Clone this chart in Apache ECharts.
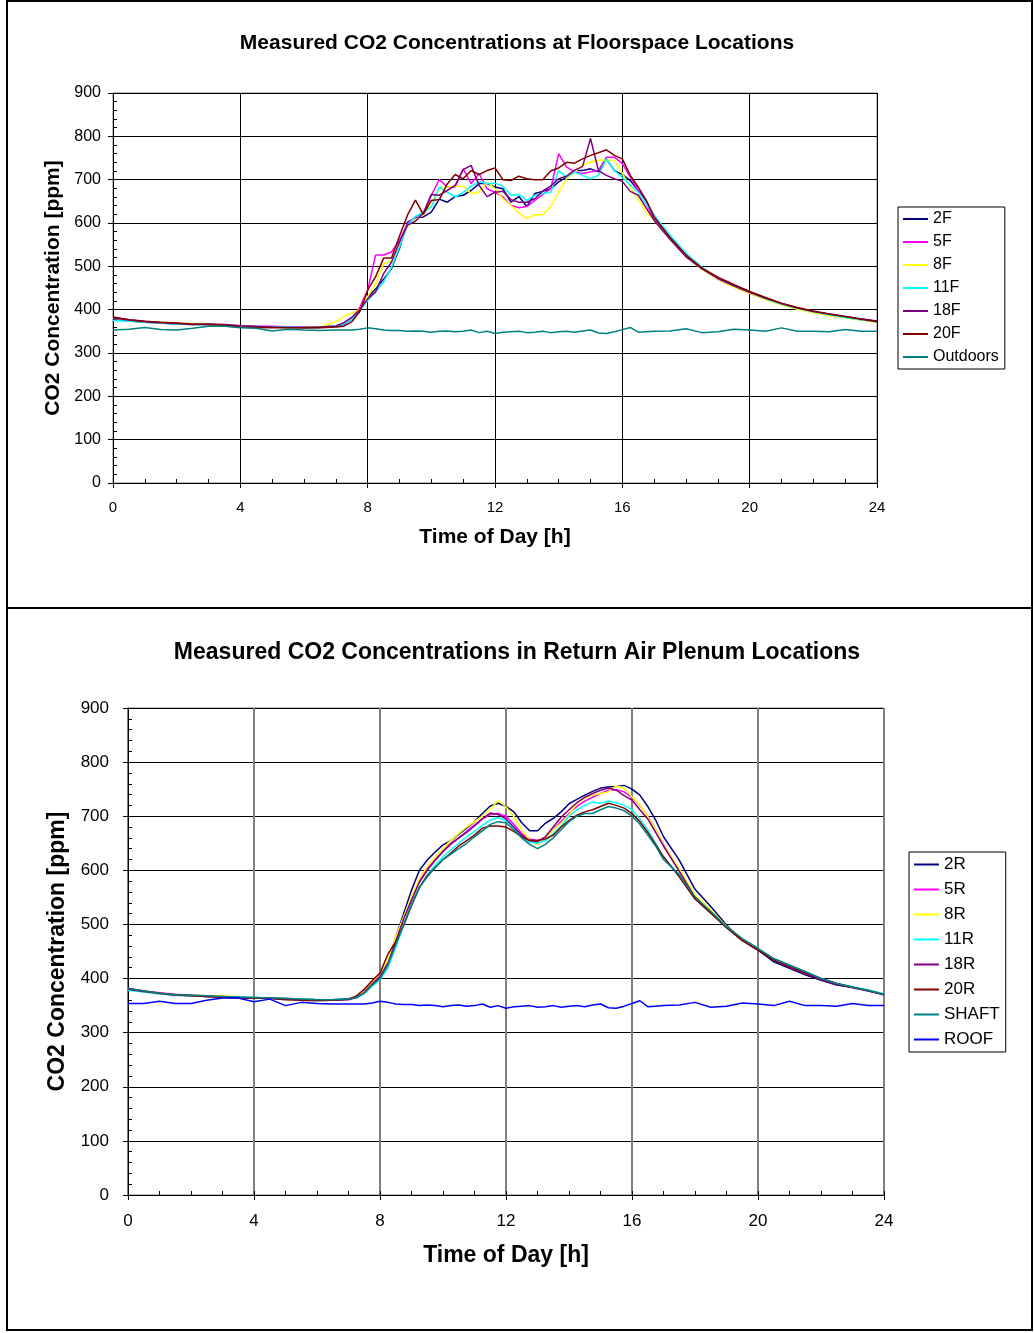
<!DOCTYPE html>
<html>
<head>
<meta charset="utf-8">
<script src="https://cdn.jsdelivr.net/npm/echarts@6/dist/echarts.min.js"></script>
<style>
  body { margin: 0; background: #fff; }
  #frame { position: absolute; left: 6px; top: 0; width: 1023px; height: 1327px; border: 2px solid #000; }
  #divider { position: absolute; left: 6px; top: 607px; width: 1027px; height: 2px; background: #000; }
  #chart { position: absolute; left: 0; top: 0; width: 1034px; height: 1333px; }
</style>
</head>
<body>
<div id="frame"></div>
<div id="divider"></div>
<div id="chart"></div>
<script>
// time of day [h] shared by every series (30 min at night, 15 min in the day)
var hours = [0, 0.5, 1, 1.5, 2, 2.5, 3, 3.5, 4, 4.5, 5, 5.5, 6, 6.5, 7,
  7.25, 7.5, 7.75,
  8, 8.25, 8.5, 8.75, 9, 9.25, 9.5, 9.75, 10, 10.25, 10.5, 10.75, 11, 11.25, 11.5, 11.75,
  12, 12.25, 12.5, 12.75, 13, 13.25, 13.5, 13.75, 14, 14.25, 14.5, 14.75, 15, 15.25, 15.5, 15.75,
  16, 16.25, 16.5, 16.75, 17,
  17.5, 18, 18.5, 19, 19.5, 20, 20.5, 21, 21.5, 22, 22.5, 23, 23.5, 24];

// floorspace locations
var f2 = [378, 374, 371, 369, 367, 366, 366, 364, 362, 361, 360, 360, 358, 359, 362,
  366, 378, 398,
  428, 448, 470, 495, 541, 602, 612, 614, 625, 655, 648, 661, 664, 675, 691, 691, 683, 679, 648, 661, 638, 668, 673, 679, 695, 706, 721, 721, 725, 718, 748, 721, 712, 698, 675, 652, 614,
  568, 528, 497, 472, 455, 440, 425, 413, 403, 395, 389, 383, 378, 373];
var f5 = [382, 377, 373, 370, 368, 367, 366, 365, 363, 362, 362, 360, 360, 360, 363,
  368, 380, 405,
  445, 526, 526, 533, 560, 598, 614, 621, 664, 700, 683, 683, 725, 691, 714, 679, 671, 660, 641, 635, 638, 652, 666, 679, 760, 729, 718, 714, 718, 721, 752, 752, 737, 706, 675, 645, 610,
  565, 525, 495, 470, 453, 438, 424, 412, 402, 394, 388, 382, 377, 372];
var f8 = [380, 376, 372, 370, 368, 368, 367, 365, 362, 360, 360, 358, 358, 360, 372,
  385, 392, 400,
  430, 460, 506, 512, 552, 591, 608, 620, 648, 679, 683, 685, 685, 668, 671, 695, 679, 656, 641, 623, 610, 619, 619, 638, 671, 702, 718, 733, 741, 745, 745, 745, 714, 683, 654, 625, 606,
  563, 523, 493, 470, 452, 438, 423, 411, 401, 393, 386, 381, 376, 371];
var f11 = [375, 373, 371, 369, 367, 366, 366, 364, 362, 361, 360, 360, 359, 360, 363,
  367, 378, 398,
  421, 441, 464, 498, 545, 595, 615, 625, 637, 683, 671, 660, 671, 685, 695, 691, 692, 685, 664, 666, 652, 664, 668, 671, 721, 706, 718, 710, 702, 710, 748, 721, 705, 687, 671, 645, 618,
  572, 530, 498, 473, 455, 440, 425, 413, 403, 395, 388, 382, 377, 372];
var f18 = [381, 376, 372, 370, 368, 366, 367, 366, 363, 361, 360, 359, 358, 360, 362,
  370, 382, 400,
  425, 441, 483, 510, 556, 595, 604, 623, 666, 664, 675, 687, 723, 733, 687, 661, 671, 673, 654, 648, 648, 656, 674, 685, 702, 708, 722, 730, 795, 721, 710, 702, 696, 673, 664, 635, 606,
  562, 522, 494, 472, 455, 440, 426, 414, 404, 396, 390, 384, 379, 374];
var f20 = [383, 377, 373, 371, 369, 367, 366, 364, 360, 359, 358, 358, 359, 358, 360,
  362, 372, 395,
  445, 476, 519, 519, 570, 618, 653, 620, 652, 654, 690, 712, 702, 721, 712, 721, 727, 700, 698, 708, 702, 700, 700, 720, 727, 740, 738, 748, 756, 762, 769, 756, 748, 710, 683, 652, 614,
  566, 526, 496, 475, 458, 442, 428, 415, 405, 397, 390, 384, 378, 372];
var outdoors = [353, 355, 359, 354, 353, 357, 362, 362, 358, 357, 351, 355, 353, 352, 353,
  353, 353, 355,
  358, 356, 353, 352, 352, 350, 351, 350, 348, 350, 351, 349, 350, 353, 347, 350, 345, 348, 349, 350, 347, 348, 350, 347, 349, 350, 348, 351, 353, 346, 345, 349, 354, 359, 348, 349, 350,
  351, 356, 347, 349, 355, 353, 350, 358, 350, 350, 349, 354, 350, 350];

// return air plenum locations
var r2 = [380, 376, 372, 369, 368, 367, 367, 365, 365, 364, 363, 362, 361, 361, 362,
  366, 375, 392,
  403, 428, 477, 520, 563, 600, 619, 634, 647, 655, 667, 678, 690, 705, 719, 724, 718, 708, 688, 673, 673, 687, 696, 708, 723, 731, 739, 746, 752, 754, 755, 757, 750, 739, 718, 693, 662,
  619, 565, 533, 499, 471, 453, 431, 419, 407, 397, 388, 384, 378, 371];
var r5 = [382, 377, 374, 371, 369, 368, 366, 365, 364, 363, 362, 361, 360, 361, 362,
  365, 374, 390,
  405, 430, 470, 512, 548, 580, 603, 620, 635, 648, 660, 672, 684, 695, 703, 705, 700, 685, 668, 658, 655, 660, 675, 690, 705, 718, 728, 735, 742, 748, 749, 745, 735, 720, 700, 675, 648,
  600, 552, 524, 496, 472, 454, 435, 422, 410, 399, 390, 384, 377, 371];
var r8 = [381, 376, 373, 370, 369, 368, 368, 366, 365, 364, 362, 362, 361, 360, 362,
  366, 376, 393,
  409, 434, 477, 514, 551, 585, 607, 624, 641, 655, 668, 680, 690, 700, 713, 729, 717, 699, 675, 656, 647, 659, 675, 687, 702, 724, 733, 739, 742, 745, 756, 752, 736, 721, 699, 675, 647,
  603, 555, 526, 497, 473, 455, 436, 423, 411, 400, 391, 385, 378, 372];
var r11 = [378, 375, 372, 370, 368, 367, 366, 366, 365, 364, 363, 362, 361, 361, 363,
  364, 372, 386,
  398, 420, 458, 498, 535, 568, 592, 610, 625, 638, 650, 662, 672, 683, 693, 697, 692, 678, 662, 652, 650, 655, 668, 682, 700, 712, 720, 726, 724, 728, 725, 720, 712, 695, 675, 650, 625,
  590, 548, 522, 494, 472, 455, 436, 424, 412, 400, 391, 385, 379, 372];
var r18 = [380, 376, 373, 370, 369, 367, 367, 365, 364, 364, 362, 361, 360, 360, 361,
  365, 374, 390,
  403, 428, 468, 510, 545, 578, 600, 618, 635, 650, 660, 670, 682, 695, 706, 703, 695, 680, 665, 655, 653, 662, 680, 698, 712, 725, 735, 742, 748, 752, 748, 738, 730, 712, 695, 670, 645,
  598, 550, 523, 495, 471, 453, 434, 421, 409, 398, 389, 383, 377, 370];
var r20 = [381, 377, 373, 370, 368, 367, 365, 364, 364, 363, 361, 360, 359, 360, 362,
  368, 380, 396,
  410, 445, 468, 498, 535, 568, 590, 605, 620, 632, 645, 655, 665, 678, 682, 682, 680, 672, 662, 655, 655, 658, 665, 680, 692, 702, 708, 712, 718, 724, 720, 715, 705, 690, 670, 648, 625,
  588, 547, 521, 494, 470, 452, 434, 422, 411, 400, 391, 384, 378, 370];
var shaft = [382, 377, 373, 370, 369, 368, 367, 366, 365, 364, 363, 362, 361, 361, 362,
  365, 373, 388,
  400, 425, 462, 500, 537, 568, 588, 605, 620, 630, 640, 650, 662, 673, 685, 690, 688, 675, 660, 648, 640, 648, 660, 675, 690, 700, 705, 705, 712, 718, 715, 710, 700, 685, 665, 645, 620,
  592, 551, 524, 496, 474, 456, 437, 425, 413, 400, 391, 384, 378, 371];
var roof = [354, 354, 358, 354, 354, 360, 364, 364, 357, 362, 350, 356, 354, 353, 353,
  353, 353, 355,
  358, 356, 353, 352, 352, 350, 351, 350, 348, 350, 351, 349, 350, 353, 347, 350, 345, 348, 349, 350, 347, 348, 350, 347, 349, 350, 348, 351, 353, 346, 345, 349, 354, 359, 348, 349, 350,
  351, 356, 347, 349, 355, 353, 350, 358, 350, 350, 349, 354, 350, 350];

var floorNames = ['2F', '5F', '8F', '11F', '18F', '20F', 'Outdoors'];
var floorData = [f2, f5, f8, f11, f18, f20, outdoors];
var plenumNames = ['2R', '5R', '8R', '11R', '18R', '20R', 'SHAFT', 'ROOF'];
var plenumData = [r2, r5, r8, r11, r18, r20, shaft, roof];
var floorColors = ['#000080', '#ff00ff', '#ffff00', '#00ffff', '#800080', '#800000', '#008080'];
var plenumColors = ['#000080', '#ff00ff', '#ffff00', '#00ffff', '#800080', '#800000', '#008080', '#0000ff'];

var font = 'Liberation Sans, Arial, sans-serif';

function pairs(vals) {
  return hours.map(function (h, i) { return [h, vals[i]]; });
}

function makeSeries(names, data, colors, axisIdx) {
  return names.map(function (name, i) {
    return {
      name: name,
      type: 'line',
      xAxisIndex: axisIdx,
      yAxisIndex: axisIdx,
      showSymbol: false,
      symbol: 'none',
      lineStyle: { color: colors[i], width: 1.5 },
      itemStyle: { color: colors[i] },
      data: pairs(data[i])
    };
  });
}

function xMain(grid, labelSize, labelMargin, nameSize, nameGap, splitColor, splitWidth) {
  return {
    gridIndex: grid, type: 'value', min: 0, max: 24, interval: 4,
    name: 'Time of Day [h]', nameLocation: 'middle', nameGap: nameGap,
    nameTextStyle: { fontFamily: font, fontSize: nameSize, fontWeight: 'bold', color: '#000' },
    axisLine: { onZero: false, lineStyle: { color: '#000', width: 1 } },
    axisTick: { length: 5, lineStyle: { color: '#000' } },
    axisLabel: { fontFamily: font, fontSize: labelSize, color: '#000', margin: labelMargin },
    splitLine: { show: true, lineStyle: { color: splitColor, width: splitWidth } }
  };
}
function xMinor(grid) {
  return {
    gridIndex: grid, type: 'value', min: 0, max: 24, interval: 1, position: 'bottom',
    axisLine: { show: false }, axisLabel: { show: false }, splitLine: { show: false },
    axisTick: { inside: true, length: 4, lineStyle: { color: '#000' } }
  };
}
function yMain(grid, labelSize, labelMargin, nameSize, nameGap) {
  return {
    gridIndex: grid, type: 'value', min: 0, max: 900, interval: 100,
    name: 'CO2 Concentration [ppm]', nameLocation: 'middle', nameGap: nameGap,
    nameTextStyle: { fontFamily: font, fontSize: nameSize, fontWeight: 'bold', color: '#000' },
    axisLine: { show: true, onZero: false, lineStyle: { color: '#000', width: 1 } },
    axisTick: { show: true, length: 5, lineStyle: { color: '#000' } },
    axisLabel: { fontFamily: font, fontSize: labelSize, color: '#000', margin: labelMargin },
    splitLine: { show: true, lineStyle: { color: '#000', width: 1 } }
  };
}
function yMinor(grid) {
  return {
    gridIndex: grid, type: 'value', min: 0, max: 900, interval: 20, position: 'left',
    axisLine: { show: false }, axisLabel: { show: false }, splitLine: { show: false },
    axisTick: { show: true, inside: true, length: 4, lineStyle: { color: '#000' } }
  };
}

var chart = echarts.init(document.getElementById('chart'));
chart.setOption({
  animation: false,
  title: [
    {
      text: 'Measured CO2 Concentrations at Floorspace Locations',
      left: 'center', top: 28,
      textStyle: { fontFamily: font, fontSize: 21, fontWeight: 'bold', color: '#000' }
    },
    {
      text: 'Measured CO2 Concentrations in Return Air Plenum Locations',
      left: 'center', top: 636,
      textStyle: { fontFamily: font, fontSize: 23, fontWeight: 'bold', color: '#000' }
    }
  ],
  legend: [
    {
      data: floorNames, orient: 'vertical', left: 898, top: 207,
      icon: 'rect', itemWidth: 25, itemHeight: 2, itemGap: 7,
      padding: [4, 6, 4, 5],
      borderColor: '#000', borderWidth: 1, backgroundColor: '#fff',
      textStyle: { fontFamily: font, fontSize: 16, color: '#000' }
    },
    {
      data: plenumNames, orient: 'vertical', left: 909, top: 852,
      icon: 'rect', itemWidth: 25, itemHeight: 2, itemGap: 8,
      padding: [4, 6, 4, 5],
      borderColor: '#000', borderWidth: 1, backgroundColor: '#fff',
      textStyle: { fontFamily: font, fontSize: 17, color: '#000' }
    }
  ],
  grid: [
    { left: 113, top: 93, width: 764, height: 390, show: true, borderColor: '#808080', borderWidth: 1, backgroundColor: '#fff' },
    { left: 128, top: 708, width: 756, height: 487, show: true, borderColor: '#808080', borderWidth: 1, backgroundColor: '#fff' }
  ],
  xAxis: [
    xMain(0, 15, 17, 21, 44, '#000', 1), xMinor(0),
    xMain(1, 17, 18, 23, 49, '#808080', 2), xMinor(1)
  ],
  yAxis: [
    yMain(0, 16, 12, 21, 47, 0), yMinor(0),
    yMain(1, 17, 19, 23, 59), yMinor(1)
  ],
  series: makeSeries(floorNames, floorData, floorColors, 0)
    .concat(makeSeries(plenumNames, plenumData, plenumColors, 2))
});
</script>
</body>
</html>
